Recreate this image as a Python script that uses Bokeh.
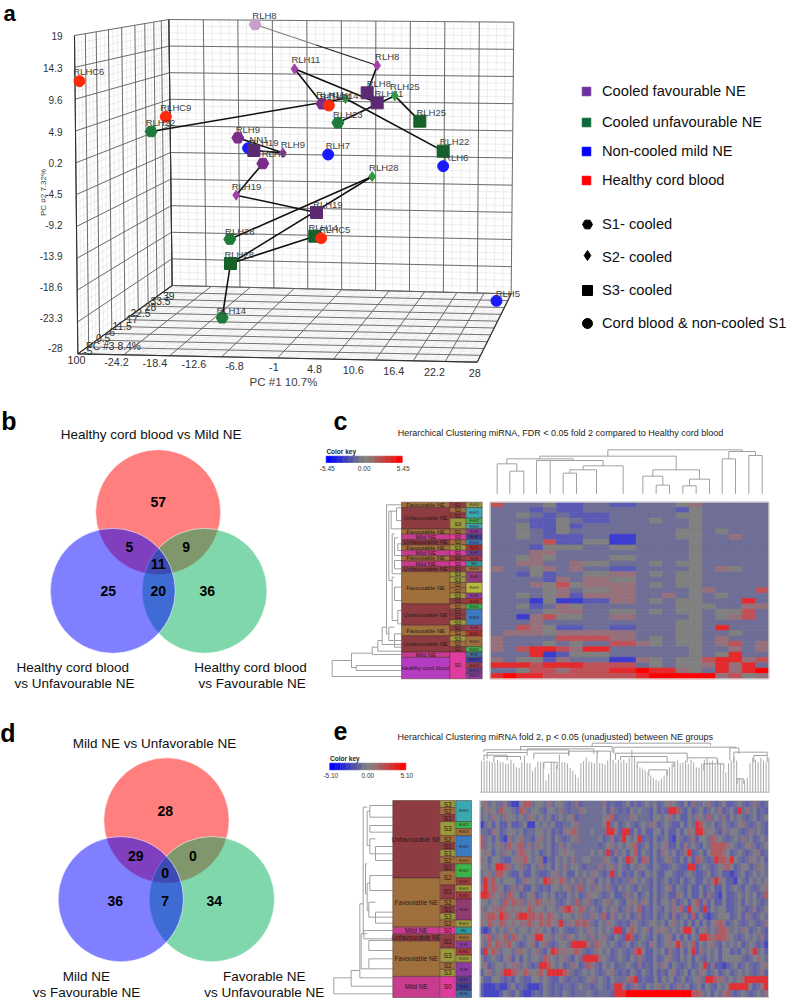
from math import pi
from bokeh.plotting import figure
from bokeh.models import Range1d
from bokeh.core.properties import value
from bokeh.embed import file_html
from bokeh.resources import INLINE

# ---------------- panel a: samples on the 3D PCA (read in 3x picture units)
pt_name = ["RLH8","RLH8","RLH11","RLH8","RLH11","RLH25","RLH14","RLH11","RLHC4","RLH25","RLH23","RLH22","RLH6","RLH7","RLHC6","RLHC9","RLH22","RLH9","NN1","RLH19","RLH9","RLH8","RLH19","RLH19","RLH28","RLH28","RLH14","RLHC5","RLH28","RLH14","RLH5"]
pt_x = [764,1130,882,1100,1130,1183,1035,965,985,1258,1012,1328,1328,983,237,496,452,712,743,760,847,787,707,948,1115,688,943,962,690,665,1488]
pt_y = [72,195,205,277,307,286,294,310,315,362,367,452,497,462,242,349,393,412,443,450,457,489,584,636,528,716,707,713,789,952,901]
pt_lx = [792,1160,916,1135,1165,1213,1030,990,1005,1292,1042,1362,1367,1012,265,526,480,742,775,790,877,820,738,982,1150,718,968,1003,716,692,1522]
pt_ly = [46,167,176,250,280,259,285,283,287,335,342,424,470,436,213,322,365,386,416,425,431,460,558,612,501,692,682,688,763,929,878]
pt_col = ["#c9a0c9","#a23fa8","#a23fa8","#5c2a72","#5c2a72","#2f9a3f","#2f9a3f","#7b2d8b","#ff2a0a","#16602a","#1f7a3a","#16602a","#1a1aff","#1a1aff","#ff2a0a","#ff2a0a","#1f7a3a","#7b2d8b","#1a1aff","#5c2a72","#a23fa8","#7b2d8b","#a23fa8","#5c2a72","#2f9a3f","#1f7a3a","#16602a","#ff2a0a","#16602a","#1f7a3a","#1a1aff"]
pt_mark = ["hex","diamond","diamond","square","square","diamond","diamond","hex","circle","square","hex","square","circle","circle","circle","circle","hex","hex","circle","square","diamond","hex","diamond","square","diamond","hex","square","circle","square","hex","circle"]
# links between the samples of one patient (indices into the lists above)
link_a = [1,2,2,6,5,5,17,21,22,24,24,28,28,16,19]
link_b = [3,7,4,11,9,10,20,22,23,25,28,26,29,6,20]

pc2_ticks = ["19","14.3","9.6","4.9","0.2","-4.5","-9.2","-13.9","-18.6","-23.3","-28"]
pc2_tick_y = [105,202,297,393,487,581,673,766,858,951,1043]
pc1_ticks = ["100","-24.2","-18.4","-12.6","-6.8","-1","4.8","10.6","16.4","22.2","28"]
pc1_tick_x = [228,348,463,580,702,820,942,1058,1180,1302,1423]
pc1_tick_y = [1078,1083,1087,1090,1095,1098,1104,1107,1110,1113,1118]
pc3_ticks = ["39","33.5","28","22.5","17","11.5","6","0.5","PC #3  8.4%","-5"]
pc3_tick_x = [505,480,450,420,395,365,335,308,343,262]
pc3_tick_y = [885,902,920,938,955,975,993,1012,1037,1052]
depth_fracs = [0,.115,.23,.36,.50,.64,.745,.84,.92,1]

legend_labels = ["Cooled favourable NE","Cooled unfavourable NE","Non-cooled mild NE","Healthy cord blood"]
legend_cols = ["#7030a0","#0a6a3c","#0000ff","#ff0000"]
shape_labels = ["S1- cooled","S2- cooled","S3- cooled","Cord blood & non-cooled S1"]
shape_marks = ["hex","diamond","square","circle"]

# ---------------- venn counts
venn_b = ["57","5","9","11","25","20","36"]
venn_d = ["28","29","0","0","36","7","34"]

# ---------------- panel c heat map, one letter per cell
heat_c = [
"r...gbb..bb...gp.....","...b.bb.......bg.....","..g.b.bbb.....gg.....","...bbg.bb...g..g.....","..gbbgb........g.....",
"..g.bg........gg.g...","..g.bbb..BB...gg..p..","....rbbggBB....g.....","...bggg..gg....g.....","...pp..........g.....",
"..gpg....gg....g.....","..pp..pgg...g.gg.....","p..gp.p..bb....g.pg..","..bgb..ggpp.g.gg.....","....bp.ppgg...gg.....",
"...pgrgpppp.g.gg.....","....gp.ggpp....gp...r","..g.gpbpppp..p.g.g...","...BgBBbbpp.g.gg...R.","..gb.pg.......ggg..pp",
"....gpp..gg.g.gg.ggr.","..Bprgg..pp....g.gpr.","...p..........gg.....","..rpgbb..bb...gg.R...",".pppgpppppp...gg..g..",
"p....rrrrpp.g.gg.p...","p...g.g..rrpg.gg.pr.p","p.rRRrpRR......g..p.p","...RBbggg......g.gR..","p.ggbp...BBpg.ggrRRpr",
"RRRrRRRrrrr.g.ggpRpR.","..grrprrrRRXRRpg.RpRX","RXRRrrrrrrrRXXXXXprgp"]
# ---------------- panel e heat map, left half and right half
heat_e_left = [
"gp.g..pbBBgrr.gg.p.gg.b.pb.....pb.bb.",".gpg.rgg.brp.gg.bgg.p.b..pg....gbp.b.",".g.pg.pgg.g.pg.g.gb.g.gpb......gprb..","B.gbgbbgbb.gBBg.g.gbb..gp......gR.gb.",
"..bpgb.gg.gb..gg.gb.bpgrp...g...RRpbR","r.gbgbBp.gp..bgp.gbg.b.gp.....gb.pb.R","r.g.gp.rgpr.p.pg.gb.p.g.......b.gp.g.","gpgbg.pg.prpg.gb.gb.gpgg....g.g.Rbp.g",
"pgbgg.bbgpprg.gpB.bg.g.p..gg...pg.bg.","gg.gRRrp.gp.bg.p.gbg.p.gg.b...p.gp.g.",".gp.rrg.bbgbbg.bb.gp.gbbg.g.pg.b.R.gb",".Rprg.gggb.pgg.gRrpgrp.g.p.gpbg.gb.b.",
"pRprpgb.p.pbbg.b.bgg.gp.pr.g.pg.p.bg.","RRrpgp.rpgb.gpb.g.gb.bg.gb.pgg.b.gbb.","gg.gg.rprpp.pgrpgpg.b.g.r.gp.b.gp.g.b","p.gpprpgpgpgrpgg.gg.prRpgrp.g.bg.gpb.",
"gprrpRrpgrRRrrprgrpg.gg.gp..pg.rbp.g.","pgrpgrpgpgpprpgrprgpR.pgrprp.bg.pg.b.","bBbg.g.pg.gg.gpg.gb.g.bb.g.pg.g.g.RRb","gpr.pgr.rpg.gpRRgp.gp.pg.gg.p.gp.bg.b",
"g.rgrpprg.b.gpbgp.b.gg.RRRRp.rpg.g.b.","bRgrp.gg.ppg.gp.bgRrppgprp.b.pg.gb.g.","gb.g.bgpbgbg.gg.rpg.gp.bg.RRRRpg.b.g.","gpb.gg.gpp.g.b.RRrg.gb.pgb.rp.bg.gb..",
"bgp.gpRRrpgrpgprgRRRRrp.b.g.g.b.gp.b.","gbbgg.b.bg.bbgg.g.bbg.b..b.gp.g.bg...","bBBBbBB.gb.bBBBbg.b.b..b.g..b.g.b.RRp","bBBBBbg.bgbBBb.bg.b.bg.b...g.b...bRRR"]
heat_e_right = [
"gb.b.g.gb.gpg.bgbp..gp.b.gbb.g.b.p.b.","bg.g..bgb.bRRr.bgb.gb.g.pb.gbR.p.gb.b",".pg...bgg.gp.gbbg.pg.r.g.pbg.g.b.gb.g","g.b.g.pgb.g.bbgbg.Rrg.gb.g.b.gp.b.g.b",
"RbgbgbbggbgbbgbgpgRRpgg.bp.gg.b.p.g.b","g.gRb.bgb.gbBg.b.pbgg.rpg.b.g.p.gb.g.","gprb.gbg.gpbbgbp.g.bg.rrrrpg.b.gp.b.g","bgrbg.bgbpg.gb.pRb.gbgrrrpgb.g.b.gpb.",
"Rrgbrpbgb.gp.bgbgbrp.b.RrrpRg.b.pg.gb","bg.pg.bg.bb.g.bbRRb.g.b.gprgb.ggb.pg.",".bg.bg.gbbgg.bb.g.bb.gb.gbbBb.gb.g.g.",".pg.g.bgb.gb.bgb.gbbg.pRpgbbBg.bg.g.g",
"g.bg..bgb.gpbg.bgbbgb.gbbgb.g.bg.b.gp","p.gb.gbgb.gbbpgbgbbgbp.bBgbb.g.g.gb.r","gpg.pgbgbgg.pb.gbgrbpbgbbgbb.gbg.g.b.","p.grb.bg.bg.pgrbRgpbRbg.ggbb.g.b.pb.g",
"gb.pb.bgb.gbpb.gbrbgbBb.gggb.gbp.b.g.","bpg.b.gg.gbgp.gbgbgbgbgprpb.g.b.g.b.p","grg.gpbgpgp.g.pRRgbgp.g.rrp.g.pgb.g.b","Rrb.g.bgb.gpbgbgbg.RRrprrrpg.b.g.g.pb",
"gb.g.bpgb.gpgRp.grbg.gp.bg.g.gb.g.b.B","b.rRgbbg.gbp.bgbgRbp.g.gbggb.bg.pR.gb","bg.p.bbgb.gp.bg.gbg.bg.gbggggg.b.gpg.","g.bpb.bg.pgbg.b.gb.gRbpbbBb.gb.g.b.gp",
"bg.bg.bgb.bgpb.gbg.pgb.gb.gb.g.g.b.pb","prRb.bbgbg.gb.gb.gp.RRrpp.g.gpRRRRRR","b.p.bg.gp.gb.p.gb.gbg.bg.gRRRRRgb.pR","XXXXXXXXXXXXXXXXXrrp.gbg.pr.b.g.b.g.p"]
heat_cols = {".":"#6e6e96","b":"#5a5ab4","B":"#3c3cd0","g":"#808080","p":"#96707a","r":"#be5258","R":"#e42a2c","X":"#ff0000"}
heat_cols_e = {".":"#6e6e96","b":"#6060aa","B":"#4646c4","g":"#7e7e86","p":"#90707e","r":"#b25a62","R":"#e03036","X":"#ff0000"}

key_cols = ["#0000ff","#1414e6","#2828d2","#3c3cbe","#5050aa","#646496","#787882","#828078","#96706e","#aa5a5a","#be4646","#d23232","#e61e1e","#ff0000"]

# ---------------- side annotation runs (label, rows)
c_groups = [("Favourable NE",1),("Unfavourable NE",4),("Favourable NE",1),("Mild NE",1),("Unfavourable NE",1),("Favourable NE",1),("Mild NE",1),("Favourable NE",1),("Mild NE",1),("Unfavourable NE",1),("Favourable NE",6),("Unfavourable NE",4),("Favourable NE",2),("Unfavourable NE",3),("Mild NE",1),("Healthy cord blood",4)]
c_stage = [("S1",1),("S2",1),("S1",1),("S3",2),("S2",1),("S0",1),("S2",1),("S3",1),("S0",1),("S1",1),("S0",1),("S1",1),("S3",1),("S3",1),("S2",1),("S2",1),("S3",1),("S1",1),("S2",1),("S1",1),("S1",1),("S3",1),("S1",1),("S2",1),("S3",1),("S2",1),("S1",1),("S0",5)]
c_ids = [("RLH19",1,"#9a9a3c"),("RLH25",2,"#3aa8b0"),("RLH22",1,"#3cb44b"),("RLH25",1,"#3aa8b0"),("RLH8",1,"#8a3ca0"),("RLH5",1,"#3c3c90"),("RLH26",1,"#3a7abf"),("RLH11",1,"#b03030"),("RLH7",1,"#6a3c96"),("RLH9",1,"#a03c50"),("NN1",1,"#2a9a9a"),("RLH14",1,"#a0703c"),("RLH8",2,"#8e3c80"),("RLH19",2,"#b8b83c"),("RLH8",1,"#8a3ca0"),("RLH11",1,"#b03030"),("RLH22",1,"#3cb44b"),("RLH26",3,"#3a7abf"),("RLH9",1,"#a03c60"),("RLH11",1,"#b03030"),("RLH14",2,"#a0703c"),("RLH22",1,"#3cb44b"),("RLH5",1,"#3c70a0"),("RLHC4",1,"#3c3cb0"),("RLHC9",1,"#a03c50"),("RLHC5",1,"#6a3c96"),("RLHC6",1,"#8a3ca0")]
e_groups = [("Unfavourable NE",11),("Favourable NE",7),("Mild NE",1),("Unfavourable NE",1),("Favourable NE",5),("Mild NE",3)]
e_stage = [("S3",1),("S2",1),("S1",1),("S3",2),("S2",1),("S1",1),("S3",1),("S2",1),("S1",1),("S2",2),("S1",2),("S2",1),("S1",1),("S3",1),("S2",1),("S0",1),("S1",2),("S3",2),("S2",1),("S3",1),("S0",3)]
e_ids = [("RLH25",3,"#3aa8b0"),("RLH22",1,"#3cb44b"),("RLH14",1,"#a0703c"),("RLH26",3,"#3a7abf"),("RLH14",1,"#a0703c"),("RLH22",2,"#3cb44b"),("RLH11",1,"#a03c40"),("RLH19",1,"#9a9a3c"),("RLH11",1,"#a03c40"),("RLH9",3,"#8e3c70"),("RLH19",1,"#9a9a3c"),("NN1",1,"#2a9a9a"),("RLH14",1,"#a0703c"),("RLH8",1,"#8a3ca0"),("RLH11",1,"#a03c40"),("RLH19",1,"#9a9a3c"),("RLH8",2,"#8a3ca0"),("RLH7",1,"#5a3c96"),("RLH5",1,"#3c3c90"),("RLH6",1,"#3c70a0")]
group_col = {"Favourable NE":"#a0703c","Unfavourable NE":"#8e3c42","Mild NE":"#c83c90","Healthy cord blood":"#b43cc0"}
stage_col = {"S0":"#e03ca0","S1":"#8e3c42","S2":"#a0703c","S3":"#9a9a3c"}

# ---------------- dendrograms: (a, b, level, end a, end b)
c_top = [(568,610,152,220,220),(530,589,130,220,152),(648,689,120,220,220),(728,768,158,220,220),(748,828,148,158,220),(788,908,136,148,220),(668,848,120,120,136),(559,758,115,130,120),(658,1067,107,115,148),(1007,1047,194,220,220),(967,1027,167,220,194),(1087,1127,196,220,220),(1107,1167,176,196,220),(997,1137,148,167,176),(1205,1245,115,220,220),(1285,1325,105,220,220),(1225,1305,93,115,105),(862,1265,88,107,93)]
c_left = [(720,768,35,93,243),(698,741,93,155,107),(735,750,107,243,243),(680,702,155,172,243),(660,692,172,185,243),(620,672,185,198,243),(253,640,198,243,205),(272,480,205,212,215),(272,325,212,228,243),(262,300,228,243,243),(340,460,215,222,243),(352,405,222,232,243),(370,390,232,243,243),(420,445,222,243,243),(470,600,215,222,232),(500,540,222,243,243),(570,610,232,243,243),(620,660,205,222,243),(640,680,222,243,243)]
e_left = [(772,820,40,92,217),(750,797,92,118,217),(550,772,118,128,217),(260,640,128,140,140),(255,290,148,217,217),(315,335,148,217,217),(355,400,148,165,217),(378,420,165,217,217),(272,375,140,148,148),(465,510,148,217,217),(488,570,140,148,145),(545,590,145,165,217),(575,608,165,217,217),(430,520,135,140,140),(640,745,122,130,145),(660,690,145,217,217),(715,745,145,217,217),(630,655,130,217,217)]
e_leaf_top = [122,122,120,122,125,125,118,125,125,130,130,118,128,140,142,125,105,128,128,152,140,122,124,126,180,160,125,125,135,102,125,125,128,142,150,162,172,128,122,110,122,125,128,110,128,128,132,120,110,118,128,118,124,118,128,112,88,110,135,140,145,150,155,165,172,178,182,175,165,150,140,130,122,118,128,125,120,130,118,125,140,142,128,118,112,125,120,132,118,128,150,155,128,120,110,120,172,178,180,172,128,112,118,125,112,120,125,112]
e_top = [(815,1170,68,78,75),(600,875,78,90,95),(490,745,88,95,100),(500,620,96,115,105),(490,560,104,120,120),(620,820,85,95,100),(640,745,98,115,105),(745,830,92,105,112),(520,600,108,125,118),(830,870,92,100,120),(880,1245,80,100,84),(885,1100,98,118,112),(900,1040,108,120,125),(950,1060,125,140,140),(985,1040,148,165,165),(1100,1190,112,125,128),(1150,1210,130,150,150),(1228,1255,82,120,100),(1240,1340,95,125,105),(1300,1340,105,125,125),(1250,1270,175,190,190),(670,710,125,145,145)]

p = figure(width=786, height=999, x_range=Range1d(0, 786), y_range=Range1d(999, 0),
           output_backend="svg", toolbar_location=None, min_border=0, outline_line_color=None)
p.axis.visible = False
p.grid.visible = False

FONT = value("Liberation Sans")
def txt(x, y, s, size, color="#000000", style="normal", align="center", angle=0):
    p.text([x], [y], text=[s], text_font=FONT, text_font_size=f"{size}px", text_color=color,
           text_font_style=style, text_align=align, text_baseline="middle", angle=angle)

def lerp(a, b, t):
    return (a[0] + (b[0]-a[0])*t, a[1] + (b[1]-a[1])*t)

# ===== panel a =====
BTL, BTR, BBR, BBL = (505,57), (1540,65), (1532,880), (515,855)
LTL, LBL = (222,105), (232,1060)
FFR = (1430,1085)

def quad_grid(tl, tr, br, bl, us, vs, color, width):
    xs, ys = [], []
    for u in us:
        a, b = lerp(tl, tr, u), lerp(bl, br, u)
        xs.append([a[0]/3, b[0]/3]); ys.append([a[1]/3, b[1]/3])
    for v in vs:
        a, b = lerp(tl, bl, v), lerp(tr, br, v)
        xs.append([a[0]/3, b[0]/3]); ys.append([a[1]/3, b[1]/3])
    p.multi_line(xs, ys, line_color=color, line_width=width)

uni = [i/10 for i in range(11)]
fine = [i/40 for i in range(41)]
depth_fine = []
for a, b in zip(depth_fracs[:-1], depth_fracs[1:]):
    depth_fine += [a + (b-a)*k/3 for k in range(3)]
depth_fine.append(1)

quad_grid(BTL, BTR, BBR, BBL, fine, fine, "#d4d4d4", 0.4)
quad_grid(LTL, BTL, BBL, LBL, depth_fine, fine, "#d4d4d4", 0.4)
quad_grid(LBL, BBL, BBR, FFR, fine, depth_fine, "#d4d4d4", 0.4)
quad_grid(BTL, BTR, BBR, BBL, uni, uni, "#606060", 0.9)
quad_grid(LTL, BTL, BBL, LBL, depth_fracs, uni, "#606060", 0.9)
quad_grid(LBL, BBL, BBR, FFR, uni, depth_fracs, "#606060", 0.9)

edge_x = [[q[0]/3 for q in s] for s in [[LTL, LBL], [LBL, FFR], [FFR, BBR], [LBL, BBL], [BBL, BTL]]]
edge_y = [[q[1]/3 for q in s] for s in [[LTL, LBL], [LBL, FFR], [FFR, BBR], [LBL, BBL], [BBL, BTL]]]
p.multi_line(edge_x, edge_y, line_color="#303030", line_width=1.1)

for s, y in zip(pc2_ticks, pc2_tick_y):
    txt(62, y/3, s, 10, "#303030", align="right")
for s, x, y in zip(pc1_ticks, pc1_tick_x, pc1_tick_y):
    txt(x/3, y/3, s, 10.8, "#303030")
for s, x, y in zip(pc3_ticks, pc3_tick_x, pc3_tick_y):
    txt(x/3, y/3, s, 10.3, "#303030")
txt(43, 192, "PC #2 7.32%", 8, "#404040", angle=pi/2)
txt(283, 381, "PC #1 10.7%", 11.5, "#404040")
txt(9, 13, "a", 22, style="bold")

mid_x, mid_y = (pt_x[0]+pt_x[1])/6, (pt_y[0]+pt_y[1])/6
p.multi_line([[pt_x[0]/3, mid_x], [mid_x, pt_x[1]/3]], [[pt_y[0]/3, mid_y], [mid_y, pt_y[1]/3]],
             line_color=["#808080", "#202020"], line_width=1.3)
p.multi_line([[pt_x[a]/3, pt_x[b]/3] for a, b in zip(link_a, link_b)],
             [[pt_y[a]/3, pt_y[b]/3] for a, b in zip(link_a, link_b)],
             line_color="#101010", line_width=1.6)
sizes = {"hex": 12, "diamond": 10, "square": 12, "circle": 11}
for n, x, y, lx, ly, c, m in zip(pt_name, pt_x, pt_y, pt_lx, pt_ly, pt_col, pt_mark):
    p.scatter([x/3], [y/3], marker=m, size=sizes[m], fill_color=c, line_color=c)
    txt(lx/3, ly/3, n, 9.5, "#404040")

for i, (s, c) in enumerate(zip(legend_labels, legend_cols)):
    y = [91, 122, 151, 180][i]
    p.scatter([586], [y], marker="square", size=8.5, fill_color=c, line_color=c)
    txt(601.5, [90, 121, 150, 179][i], s, 14.7, "#101010", align="left")
for i, (s, m) in enumerate(zip(shape_labels, shape_marks)):
    y = [224, 255, 290, 323][i]
    p.scatter([587], [y], marker=m, size=10, fill_color="#000000", line_color="#000000")
    txt(601.5, [223, 256, 289, 322][i], s, 14.7, "#101010", align="left")

# ===== venn diagrams =====
def venn(cx_top, cy_top, cx_l, cx_r, cy_low, r, labels, label_pos):
    p.circle([cx_top], [cy_top], radius=r, fill_color="#ff0000", fill_alpha=.5, line_color="#ffffff", line_alpha=.6, line_width=1)
    p.circle([cx_r], [cy_low], radius=r, fill_color="#00b058", fill_alpha=.5, line_color="#ffffff", line_alpha=.6, line_width=1)
    p.circle([cx_l], [cy_low], radius=r, fill_color="#0000ff", fill_alpha=.5, line_color="#ffffff", line_alpha=.6, line_width=1)
    for s, (x, y) in zip(labels, label_pos):
        txt(x, y, s, 14, "#000000", style="bold")

venn(157.7, 511.7, 112.3, 204, 590.3, 62.5, venn_b,
     [(157.7,501.7),(129,546),(185.7,546),(157.7,563.3),(107.7,590.7),(157.7,590.7),(206.7,590.7)])
venn(166, 820, 120.3, 211.3, 898.7, 62.7, venn_d,
     [(164.7,810),(135.3,855),(192.3,855),(164.7,872.3),(114.7,900),(164.7,900),(213.7,900)])
txt(150.7, 433.7, "Healthy cord blood vs Mild NE", 13.5, "#101010")
txt(72.3, 666.7, "Healthy cord blood", 13.5, "#101010")
txt(74, 683.3, "vs Unfavourable NE", 13.5, "#101010")
txt(250, 666.7, "Healthy cord blood", 13.5, "#101010")
txt(251.7, 683.3, "vs Favourable NE", 13.5, "#101010")
txt(154, 742.7, "Mild NE vs Unfavorable NE", 13.5, "#101010")
txt(86, 975.7, "Mild NE", 13.5, "#101010")
txt(86, 991.8, "vs Favourable NE", 13.5, "#101010")
txt(263.7, 975.7, "Favorable NE", 13.5, "#101010")
txt(263.7, 991.8, "vs Unfavourable NE", 13.5, "#101010")
txt(8.5, 420, "b", 25, style="bold")
txt(340, 420, "c", 25, style="bold")
txt(7.5, 732, "d", 25, style="bold")
txt(340, 730, "e", 25, style="bold")

# ===== heat map helpers =====
def heat_rows(rows, x0, x1, y0, y1, palette):
    L, R, T, B, C = [], [], [], [], []
    h = (y1 - y0) / len(rows)
    for i, row in enumerate(rows):
        w = (x1 - x0) / len(row)
        for j, ch in enumerate(row):
            L.append(x0 + j*w); R.append(x0 + (j+1)*w)
            T.append(y0 + i*h); B.append(y0 + (i+1)*h); C.append(palette[ch])
    p.quad(left=L, right=R, top=T, bottom=B, fill_color=C, line_color=C, line_width=0.7)

def frame(x0, x1, y0, y1):
    p.quad(left=[x0], right=[x1], top=[y0], bottom=[y1], fill_color=None, line_color="#cfcfcf", line_width=1)

def key(x0, x1, y0, y1, labs, lab_y):
    w = (x1 - x0) / len(key_cols)
    p.quad(left=[x0 + i*w for i in range(len(key_cols))], right=[x0 + (i+1)*w for i in range(len(key_cols))],
           top=[y0]*len(key_cols), bottom=[y1]*len(key_cols), fill_color=key_cols, line_color=key_cols, line_width=.7)
    txt(x0 + 15, y0 - 5, "Color key", 6.5, "#222222", style="bold")
    for s, x in zip(labs, [x0 + 1, (x0 + x1)/2, x1 + 1]):
        txt(x, lab_y, s, 6.5, "#333333")

def runs(items, x0, x1, y0, h, cols, size):
    r = 0
    for it in items:
        s, n = it[0], it[1]
        c = it[2] if len(it) > 2 else cols[s]
        p.quad(left=[x0], right=[x1], top=[y0 + r*h], bottom=[y0 + (r+n)*h], fill_color=c,
               line_color="#4a2a2a", line_width=.5)
        txt((x0 + x1)/2, y0 + (r + n/2)*h, s, size, "#2a1a1a")
        r += n

def dendro_top(items, ox, oy):
    xs, ys = [], []
    for a, b, lv, ea, eb in items:
        xs.append([ox+a/3, ox+a/3, ox+b/3, ox+b/3]); ys.append([oy+ea/3, oy+lv/3, oy+lv/3, oy+eb/3])
    p.multi_line(xs, ys, line_color="#a0a0a0", line_width=1)

def dendro_left(items, ox, oy):
    xs, ys = [], []
    for a, b, lv, ea, eb in items:
        xs.append([ox+ea/3, ox+lv/3, ox+lv/3, ox+eb/3]); ys.append([oy+a/3, oy+a/3, oy+b/3, oy+b/3])
    p.multi_line(xs, ys, line_color="#a0a0a0", line_width=1)

# ===== panel c =====
txt(560, 432.7, "Herarchical Clustering miRNA, FDR < 0.05 fold 2 compared to Healthy cord blood", 9, "#222222")
key(325.7, 401.7, 455.7, 462, ["-5.45", "0.00", "5.45"], 467.7)
dendro_top(c_top, 320, 420)
dendro_left(c_left, 320, 420)
hc = (678.3 - 501.7) / len(heat_c)
runs(c_groups, 401, 449.3, 501.7, hc, group_col, 5.8)
runs(c_stage, 449.3, 465.3, 501.7, hc, stage_col, 5.5)
runs(c_ids, 465.7, 481.7, 501.7, hc, None, 3)
heat_rows(heat_c, 489.7, 768.3, 501.7, 678.3, heat_cols)
frame(489.7, 768.3, 501.7, 678.3)

# ===== panel e =====
txt(555, 736, "Herarchical Clustering miRNA fold 2, p < 0.05 (unadjusted) between NE groups", 9, "#222222")
key(329.3, 405.3, 762.7, 769.3, ["-5.10", "0.00", "5.10"], 775)
leaf_w = (1345 - 483) / (len(e_leaf_top) - 1)
p.multi_line([[320 + (483 + i*leaf_w)/3]*2 for i in range(len(e_leaf_top))],
             [[720 + t/3, 720 + 215/3] for t in e_leaf_top], line_color="#b0b0b0", line_width=1.1)
p.multi_line([[320 + 479/3, 320 + 1347/3]], [[720 + 215/3]*2], line_color="#b0b0b0", line_width=1)
dendro_top(e_top, 320, 720)
dendro_left(e_left, 320, 720)
he = (997 - 800) / len(heat_e_left)
runs(e_groups, 392.3, 439.3, 800, he, group_col, 6.5)
runs(e_stage, 439.7, 454.7, 800, he, stage_col, 6.5)
runs(e_ids, 455.3, 471, 800, he, None, 3)
heat_rows(heat_e_left, 479.5, 626, 800, 997, heat_cols_e)
heat_rows(heat_e_right, 626, 768, 800, 997, heat_cols_e)
frame(479.5, 768, 800, 997)

open("out.html", "w").write(file_html(p, INLINE))
